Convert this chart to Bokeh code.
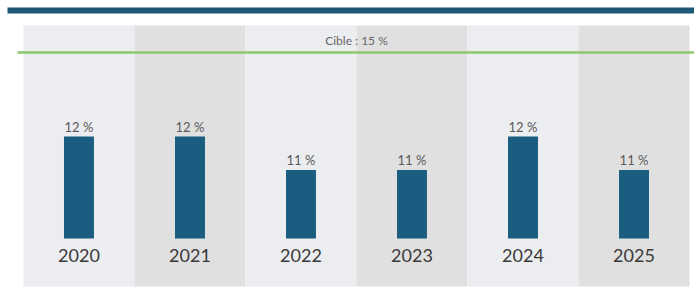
from bokeh.plotting import figure
from bokeh.models import ColumnDataSource, Range1d
from bokeh.core.properties import value
from bokeh.embed import file_html
from bokeh.resources import INLINE

# ---- data ----
years = ["2020", "2021", "2022", "2023", "2024", "2025"]
rates = [12.0, 12.0, 10.8, 10.8, 12.0, 10.8]
rate_labels = ["12 %", "12 %", "11 %", "11 %", "12 %", "11 %"]
target = 15.0
target_label = "Cible : 15 %"
panel_colors = ["#ECEDF0", "#E0E0E0", "#ECEDF0", "#E0E0E0", "#ECEDF0", "#E0E0E0"]

# ---- layout constants (not data) ----
X_START, X_END = -0.707, 5.545
Y_START, Y_END = 6.429, 16.857
BASE = 8.357          # bar baseline
PANEL_TOP = 15.964
PANEL_BOTTOM = 6.643
YEAR_Y = 7.75
BAND_TOP, BAND_BOTTOM, BAND_LEFT = 16.607, 16.393, -0.644
LINE_LEFT = -0.554

xs = list(range(len(years)))
src = ColumnDataSource(dict(x=xs, year=years, rate=rates, lab=rate_labels,
                            col=panel_colors))

p = figure(width=694, height=292, output_backend="svg", toolbar_location=None,
           x_range=Range1d(X_START, X_END), y_range=Range1d(Y_START, Y_END),
           min_border=0, outline_line_color=None,
           background_fill_color="white", border_fill_color="white")
p.axis.visible = False
p.grid.visible = False

# header band
p.quad(left=[BAND_LEFT], right=[X_END], bottom=[BAND_BOTTOM], top=[BAND_TOP],
       fill_color="#1E5878", line_color=None)

# column panels
p.vbar(x="x", width=1.0, bottom=PANEL_BOTTOM, top=PANEL_TOP, source=src,
       fill_color="col", line_color=None)

# target line
p.segment(x0=[LINE_LEFT], x1=[X_END], y0=[target], y1=[target],
          line_color="#8DC86A", line_width=2.5)
p.text(x=[2.5], y=[target], text=[target_label], text_align="center",
       text_baseline="bottom", y_offset=-4, text_font=value("Lato"),
       text_font_size="12px", text_color="#666666")

# bars
p.vbar(x="x", width=0.27, bottom=BASE, top="rate", source=src,
       fill_color="#1B5D80", line_color=None)

p.text(x="x", y="rate", text="lab", source=src, text_align="center",
       text_baseline="bottom", y_offset=-2, text_font=value("Lato"),
       text_font_size="13px", text_color="#595959")

p.text(x="x", y=YEAR_Y, text="year", source=src, text_align="center",
       text_baseline="middle", text_font=value("Lato"),
       text_font_size="18px", text_color="#3A3A3A")

open("out.html", "w").write(file_html(p, INLINE))
